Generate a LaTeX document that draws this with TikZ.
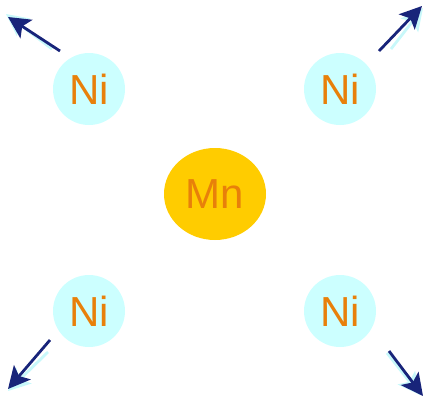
\documentclass[tikz,border=0pt]{standalone}
\usepackage{fontspec}
\setmainfont{Liberation Sans}
\usetikzlibrary{arrows.meta}
\definecolor{nifill}{HTML}{CCFFFF}
\definecolor{mnfill}{HTML}{FFCC00}
\definecolor{lbl}{HTML}{E8800A}
\definecolor{navy}{HTML}{18247A}
\definecolor{ghost}{HTML}{C8F8FA}
\begin{document}
\begin{tikzpicture}[x=1pt,y=-1pt,
  ni/.style={circle,fill=nifill,minimum size=72pt,inner sep=0pt,text=lbl,font=\fontsize{42}{46}\selectfont},
  lab/.style={text=lbl,font=\fontsize{42}{46}\selectfont,inner sep=0pt},
  spin/.style={draw=navy,line width=2.8pt,-{Stealth[length=22pt,width=22pt,inset=5pt]}},
  shade/.style={draw=ghost,line width=2.8pt,-{Stealth[length=22pt,width=22pt,inset=5pt]}}]
\useasboundingbox (0,0) rectangle (423,400);
\node[ni] (n1) at (89,89) {Ni};
\node[ni] (n2) at (340,89) {Ni};
\node[ni] (n3) at (89,311) {Ni};
\node[ni] (n4) at (340,311) {Ni};
\fill[mnfill] (215,194) ellipse [x radius=51, y radius=46];
\node[lab] (mn) at (215,194) {Mn};
% spin arrows
\coordinate (a1s) at (60,51); \coordinate (a1e) at (8,17);
\coordinate (a2s) at (379,51); \coordinate (a2e) at (422,6);
\coordinate (a3s) at (50,340); \coordinate (a3e) at (8,389);
\coordinate (a4s) at (389,351); \coordinate (a4e) at (423,396);
\draw[shade] ([shift={(-8,-2)}]a1s) -- ([shift={(-2,-3)}]a1e);
\draw[shade] ([shift={(12,-2)}]a2s) -- ([shift={(1,2)}]a2e);
\draw[shade] ([shift={(-2,12)}]a3s) -- ([shift={(0,2)}]a3e);
\draw[shade] ([shift={(-2,2)}]a4s) -- ([shift={(-3,-1)}]a4e);
\draw[spin] (a1s) -- (a1e);
\draw[spin] (a2s) -- (a2e);
\draw[spin] (a3s) -- (a3e);
\draw[spin] (a4s) -- (a4e);
\end{tikzpicture}
\end{document}
